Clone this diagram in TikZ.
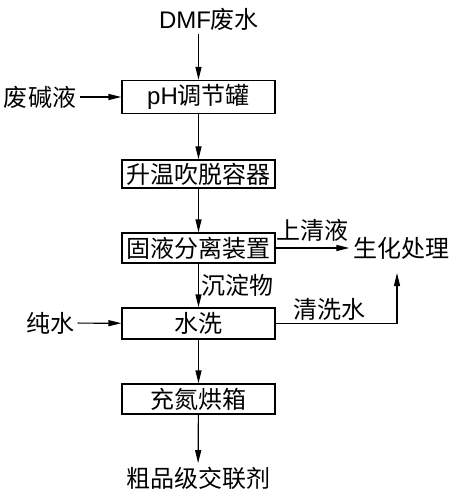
\documentclass[tikz,border=0pt]{standalone}
\usepackage{fontspec}
\setmainfont{Noto Sans CJK SC}
\newfontfamily\latin{Liberation Sans}
\usetikzlibrary{arrows.meta,positioning}

\begin{document}
\begin{tikzpicture}[x=1pt,y=-1pt,>={Triangle[length=13pt,width=6pt]},line width=1.2pt,
  every node/.style={font=\fontsize{24}{28}\selectfont},
  box/.style={draw,minimum width=153pt,minimum height=30pt,inner sep=0pt},
  lbl/.style={inner sep=3pt}]
\useasboundingbox (0,0) rectangle (454,494);
% process boxes
\node[lbl] (dmf) at (209,19) {{\latin DMF}废水};
\node[box,minimum height=33pt] (ph) at (198.5,97) {{\latin pH}调节罐};
\node[box,minimum height=28pt] (heat) at (198.5,174) {升温吹脱容器};
\node[box] (sep) at (198.5,248) {固液分离装置};
\node[box,minimum height=31pt] (wash) at (198.5,323.5) {水洗};
\node[box] (dry) at (198.5,399) {充氮烘箱};
\node[lbl] (prod) at (198,478) {粗品级交联剂};
% side inputs and outputs
\node[lbl] (alk) at (40,97) {废碱液};
\node[lbl] (pure) at (50,323) {纯水};
\node[lbl] (bio) at (401,248) {生化处理};
\coordinate (up) at (397,273);
\draw[->] (dmf.south -| ph) -- (ph);
\draw[->] (alk) -- (ph);
\draw[->] (ph) -- (heat);
\draw[->] (heat) -- (sep);
\draw[->] (sep) -- node[above=6pt,inner sep=0pt] {上清液} (bio);
\draw[->] (sep) -- node[right=2pt,inner sep=0pt] {沉淀物} (wash);
\draw[->] (pure) -- (wash);
\draw[->] (wash.east) -| node[pos=0.22,above=2pt,inner sep=0pt] {清洗水} (up);
\draw[->] (wash) -- (dry);
\draw[->] (dry) -- (prod);
\end{tikzpicture}
\end{document}
